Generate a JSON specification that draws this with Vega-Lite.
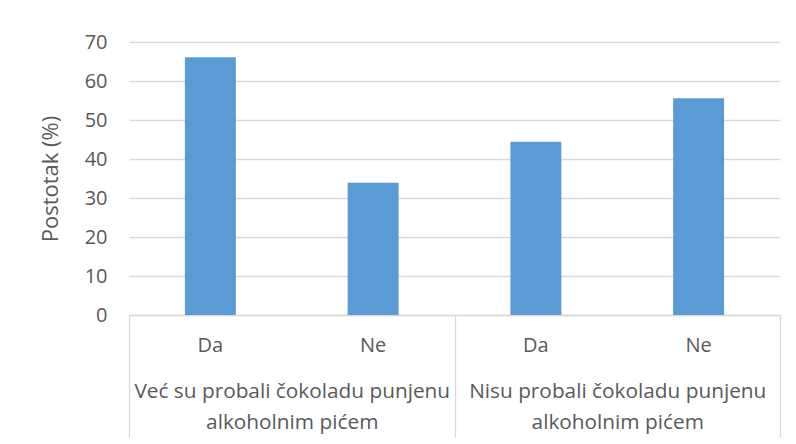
{
  "$schema": "https://vega.github.io/schema/vega-lite/v6.json",
  "width": 651,
  "height": 273,
  "autosize": {"type": "none"},
  "padding": {"left": 129, "top": 42, "right": 16, "bottom": 129},
  "background": "white",
  "config": {
    "font": "Open Sans",
    "view": {"stroke": null}
  },
  "data": {
    "values": [
      {"key": "1-Da", "answer": "Da", "group": "Već su probali čokoladu punjenu alkoholnim pićem", "value": 66.1},
      {"key": "1-Ne", "answer": "Ne", "group": "Već su probali čokoladu punjenu alkoholnim pićem", "value": 33.9},
      {"key": "2-Da", "answer": "Da", "group": "Nisu probali čokoladu punjenu alkoholnim pićem", "value": 44.4},
      {"key": "2-Ne", "answer": "Ne", "group": "Nisu probali čokoladu punjenu alkoholnim pićem", "value": 55.6}
    ]
  },
  "layer": [
    {
      "mark": {"type": "bar", "color": "#5B9BD5"},
      "encoding": {
        "x": {
          "field": "key",
          "type": "nominal",
          "sort": null,
          "scale": {"paddingInner": 0.687, "paddingOuter": 0.3435},
          "axis": {
            "orient": "bottom",
            "title": null,
            "labelExpr": "split(datum.label, '-')[1]",
            "labelAngle": 0,
            "labelFontSize": 20,
            "labelColor": "#595959",
            "labelPadding": 20,
            "ticks": false,
            "domain": true,
            "domainColor": "#d9d9d9",
            "domainWidth": 1.3
          }
        },
        "y": {
          "field": "value",
          "type": "quantitative",
          "scale": {"domain": [0, 70], "nice": false},
          "axis": {
            "values": [0, 10, 20, 30, 40, 50, 60, 70],
            "title": "Postotak (%)",
            "titleFontSize": 22,
            "titleFontWeight": "normal",
            "titleColor": "#595959",
            "titlePadding": 22,
            "labelFontSize": 20,
            "labelColor": "#595959",
            "labelPadding": 22,
            "ticks": false,
            "domain": false,
            "grid": true,
            "gridColor": "#d9d9d9",
            "gridWidth": 1.3
          }
        }
      }
    },
    {
      "mark": {"type": "rule", "strokeOpacity": 0},
      "encoding": {
        "x": {
          "field": "group",
          "type": "nominal",
          "sort": null,
          "scale": {"paddingInner": 0, "paddingOuter": 0},
          "axis": {
            "orient": "bottom",
            "title": null,
            "labelExpr": "indexof(datum.label + '', 'alkoholnim') >= 0 ? [replace(datum.label, ' alkoholnim pićem', ''), 'alkoholnim pićem'] : ''",
            "labelAngle": 0,
            "labelFontSize": 20.8,
            "labelLimit": 500,
            "labelColor": "#595959",
            "labelLineHeight": 31,
            "labelPadding": -56,
            "ticks": true,
            "tickBand": "extent",
            "tickSize": 122,
            "tickColor": "#d9d9d9",
            "tickWidth": 1.3,
            "domain": false
          }
        }
      }
    }
  ],
  "resolve": {"scale": {"x": "independent"}, "axis": {"x": "independent"}}
}
